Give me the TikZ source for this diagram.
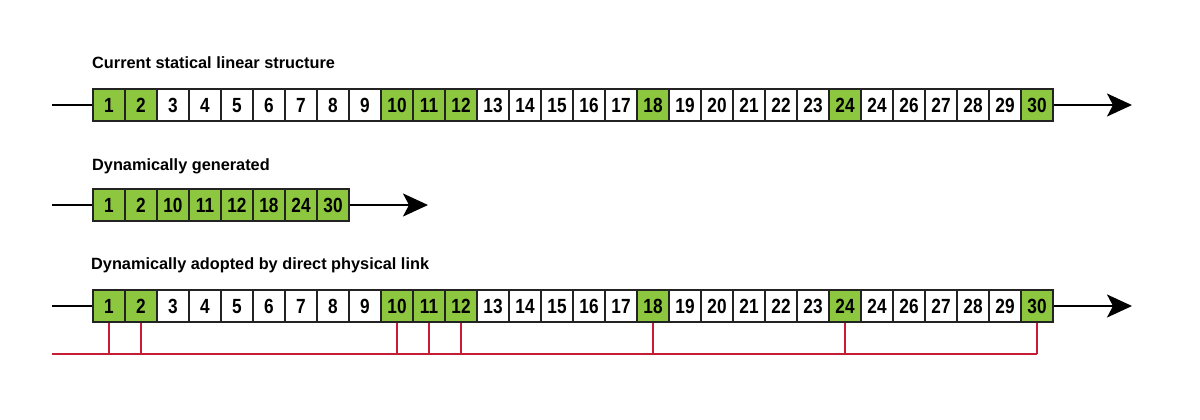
\documentclass[tikz,border=0pt]{standalone}
\usepackage{fontspec}
\setmainfont{Liberation Sans}
\usetikzlibrary{arrows.meta}
\definecolor{cellgreen}{RGB}{141,198,63}
\definecolor{linkred}{RGB}{198,28,52}
\definecolor{cellborder}{RGB}{35,35,35}
\newcommand{\condtxt}[1]{\scalebox{0.84}[1]{#1}}
\begin{document}
\begin{tikzpicture}[x=1pt,y=-1pt,
  cellbox/.style={draw=cellborder, line width=1.3pt, minimum width=32pt, minimum height=32pt,
    inner sep=0pt, text height=14.7pt, text depth=0pt,
    font=\fontsize{20.5}{22}\selectfont\bfseries},
  greenbox/.style={cellbox, fill=cellgreen},
  whitebox/.style={cellbox, fill=white},
  title/.style={anchor=base west, inner sep=0pt, font=\fontsize{16.3}{18}\selectfont\bfseries},
  flow/.style={line width=2pt, black},
  flowarrow/.style={flow, -{Stealth[length=25pt,width=23pt,inset=6pt]}},
  link/.style={line width=2pt, linkred}]
\useasboundingbox (0,0) rectangle (1200,420);

% ---------- Row 1 ----------
\node[title] (t1) at (92,69) {Current statical linear structure};
\foreach \lab/\g [count=\i] in {1/1,2/1,3/0,4/0,5/0,6/0,7/0,8/0,9/0,10/1,11/1,12/1,13/0,14/0,15/0,16/0,17/0,18/1,19/0,20/0,21/0,22/0,23/0,24/1,24/0,26/0,27/0,28/0,29/0,30/1}{
  \ifnum\g=1 \def\sty{greenbox}\else\def\sty{whitebox}\fi
  \node[\sty] (r1c\i) at (77+32*\i,105) {\condtxt{\lab}};
}
\coordinate (s1) at (52,105);
\coordinate (e1) at (1132,105);
\draw[flow] (s1) -- (r1c1.west);
\draw[flowarrow] (r1c30.east) -- (e1);

% ---------- Row 2 ----------
\node[title] (t2) at (92,170) {Dynamically generated};
\foreach \lab [count=\i] in {1,2,10,11,12,18,24,30}{
  \node[greenbox] (r2c\i) at (77+32*\i,205) {\condtxt{\lab}};
}
\coordinate (s2) at (52,205);
\coordinate (e2) at (428,205);
\draw[flow] (s2) -- (r2c1.west);
\draw[flowarrow] (r2c8.east) -- (e2);

% ---------- Row 3 ----------
\node[title] (t3) at (91,269) {Dynamically adopted by direct physical link};
\foreach \lab/\g [count=\i] in {1/1,2/1,3/0,4/0,5/0,6/0,7/0,8/0,9/0,10/1,11/1,12/1,13/0,14/0,15/0,16/0,17/0,18/1,19/0,20/0,21/0,22/0,23/0,24/1,24/0,26/0,27/0,28/0,29/0,30/1}{
  \ifnum\g=1 \def\sty{greenbox}\else\def\sty{whitebox}\fi
  \node[\sty] (r3c\i) at (77+32*\i,306) {\condtxt{\lab}};
}
\coordinate (s3) at (52,306);
\coordinate (e3) at (1132,306);
\draw[flow] (s3) -- (r3c1.west);
\draw[flowarrow] (r3c30.east) -- (e3);

% red physical links
\coordinate (bus) at (52,354);
\foreach \i in {1,2,10,11,12,18,24,30}{
  \draw[link] (r3c\i.south) -- (r3c\i.south |- bus);
}
\draw[link] (bus) -- (r3c30.south |- bus);
\end{tikzpicture}
\end{document}
